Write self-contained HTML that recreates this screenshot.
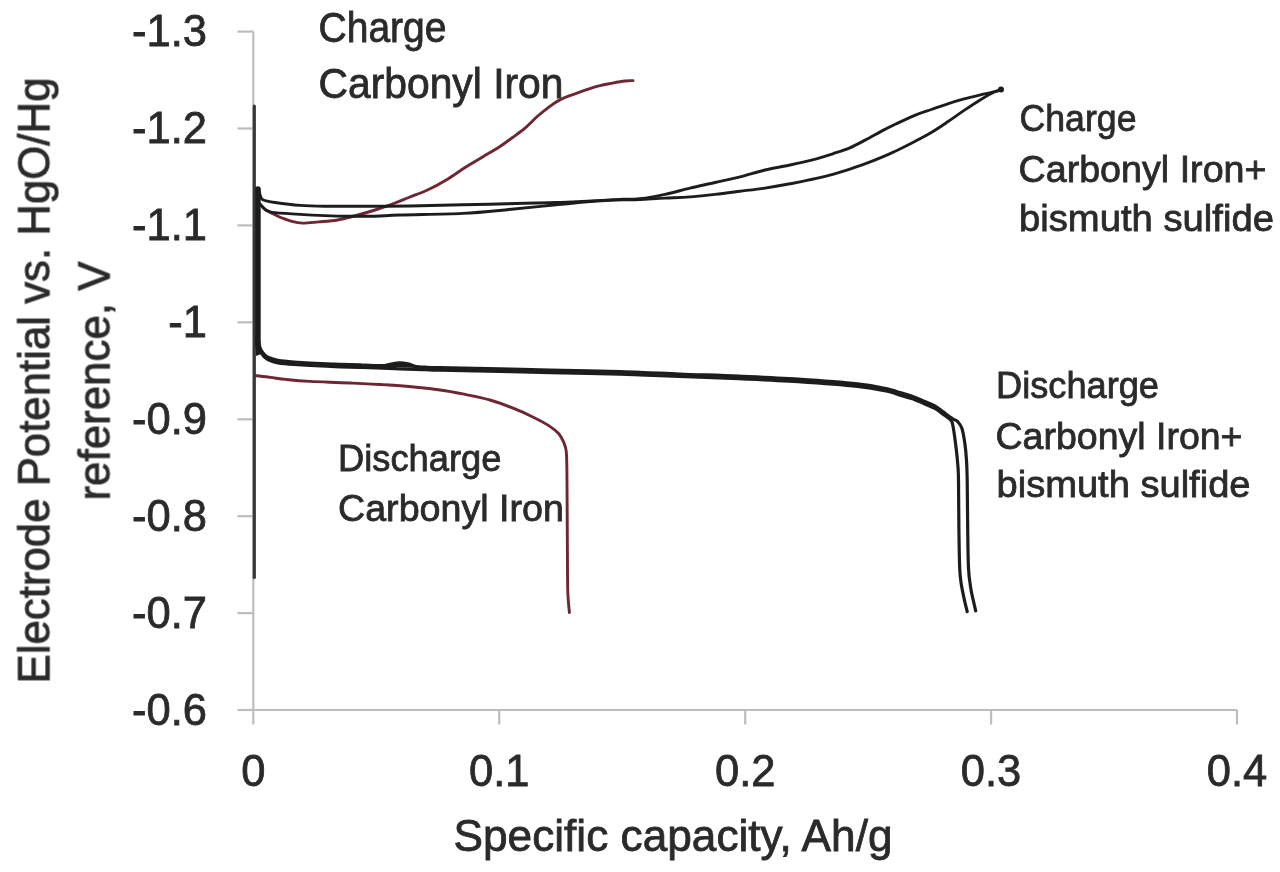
<!DOCTYPE html>
<html><head><meta charset="utf-8"><style>
html,body{margin:0;padding:0;background:#fff;width:1280px;height:872px;overflow:hidden}
svg{display:block}
text{font-family:"Liberation Sans",sans-serif;fill:#2b2b2b;stroke:#2b2b2b;stroke-width:0.8px}
</style></head><body>
<svg width="1280" height="872" viewBox="0 0 1280 872">
<defs><filter id="bl" x="0" y="0" width="1280" height="872" filterUnits="userSpaceOnUse"><feGaussianBlur stdDeviation="0.5"/></filter></defs>
<rect width="1280" height="872" fill="#fff"/>
<g filter="url(#bl)">
<g fill="none" stroke="#bdbdbd" stroke-width="2.2">
<path d="M253.3,31.6 V710.0 H1237.0" />
<path d="M237.5,31.6 H253.3" />
<path d="M237.5,128.5 H253.3" />
<path d="M237.5,225.4 H253.3" />
<path d="M237.5,322.3 H253.3" />
<path d="M237.5,419.3 H253.3" />
<path d="M237.5,516.2 H253.3" />
<path d="M237.5,613.1 H253.3" />
<path d="M237.5,710.0 H253.3" />
<path d="M253.3,710.0 V724.5" />
<path d="M499.2,710.0 V724.5" />
<path d="M745.2,710.0 V724.5" />
<path d="M991.1,710.0 V724.5" />
<path d="M1237.0,710.0 V724.5" />
</g>
<g>
<text x="207" y="46.1" text-anchor="end" font-size="43.5">-1.3</text>
<text x="207" y="143.0" text-anchor="end" font-size="43.5">-1.2</text>
<text x="207" y="239.9" text-anchor="end" font-size="43.5">-1.1</text>
<text x="207" y="336.8" text-anchor="end" font-size="43.5">-1</text>
<text x="207" y="433.8" text-anchor="end" font-size="43.5">-0.9</text>
<text x="207" y="530.7" text-anchor="end" font-size="43.5">-0.8</text>
<text x="207" y="627.6" text-anchor="end" font-size="43.5">-0.7</text>
<text x="207" y="724.5" text-anchor="end" font-size="43.5">-0.6</text>
<text x="253.3" y="786" text-anchor="middle" font-size="43.5">0</text>
<text x="499.2" y="786" text-anchor="middle" font-size="43.5">0.1</text>
<text x="745.2" y="786" text-anchor="middle" font-size="43.5">0.2</text>
<text x="991.1" y="786" text-anchor="middle" font-size="43.5">0.3</text>
<text x="1237.0" y="786" text-anchor="middle" font-size="43.5">0.4</text>
<text x="453.5" y="851.0" font-size="44.5" text-anchor="start" textLength="439.0" lengthAdjust="spacingAndGlyphs">Specific capacity, Ah/g</text>
<g transform="translate(49.3,683.5) rotate(-90)"><text x="0.0" y="0.0" font-size="44.5" text-anchor="start" textLength="606.0" lengthAdjust="spacingAndGlyphs">Electrode Potential vs. HgO/Hg</text></g>
<g transform="translate(109.5,500.5) rotate(-90)"><text x="0.0" y="0.0" font-size="44.5" text-anchor="start" textLength="239.0" lengthAdjust="spacingAndGlyphs">reference, V</text></g>
<text x="318.5" y="42.2" font-size="42.0" text-anchor="start" textLength="128.0" lengthAdjust="spacingAndGlyphs">Charge</text>
<text x="318.5" y="97.5" font-size="42.0" text-anchor="start" textLength="245.0" lengthAdjust="spacingAndGlyphs">Carbonyl Iron</text>
<text x="1019.5" y="131.1" font-size="37.5" text-anchor="start" textLength="117.0" lengthAdjust="spacingAndGlyphs">Charge</text>
<text x="1018.5" y="181.5" font-size="37.5" text-anchor="start" textLength="248.0" lengthAdjust="spacingAndGlyphs">Carbonyl Iron+</text>
<text x="1019.0" y="230.5" font-size="37.5" text-anchor="start" textLength="255.0" lengthAdjust="spacingAndGlyphs">bismuth sulfide</text>
<text x="996.0" y="397.5" font-size="37.5" text-anchor="start" textLength="163.0" lengthAdjust="spacingAndGlyphs">Discharge</text>
<text x="995.5" y="448.5" font-size="37.5" text-anchor="start" textLength="247.0" lengthAdjust="spacingAndGlyphs">Carbonyl Iron+</text>
<text x="996.5" y="497.0" font-size="37.5" text-anchor="start" textLength="254.0" lengthAdjust="spacingAndGlyphs">bismuth sulfide</text>
<text x="338.0" y="470.6" font-size="37.5" text-anchor="start" textLength="163.5" lengthAdjust="spacingAndGlyphs">Discharge</text>
<text x="338.0" y="521.4" font-size="37.5" text-anchor="start" textLength="226.0" lengthAdjust="spacingAndGlyphs">Carbonyl Iron</text>
</g>
<g fill="none" stroke-linecap="round" stroke-linejoin="round">
<path d="M255.0,375.5 C257.5,375.8 264.8,376.8 270.0,377.4 C275.2,378.0 279.3,378.7 286.0,379.4 C292.7,380.1 299.3,380.8 310.0,381.4 C320.7,382.0 335.0,382.3 350.0,383.0 C365.0,383.7 385.0,384.6 400.0,385.8 C415.0,386.9 429.2,388.6 440.0,390.0 C450.8,391.4 456.7,392.7 465.0,394.4 C473.3,396.1 481.7,397.6 490.0,400.0 C498.3,402.4 507.7,405.8 515.0,408.8 C522.3,411.7 528.1,414.7 533.8,417.5 C539.4,420.3 544.6,422.9 548.8,425.6 C552.9,428.3 556.2,430.9 558.8,433.8 C561.2,436.6 562.5,439.6 563.8,442.5 C565.0,445.4 565.7,446.7 566.2,451.2 C566.8,455.8 566.7,459.4 566.9,470.0 C567.1,480.6 567.1,498.3 567.2,515.0 C567.3,531.7 567.4,556.8 567.5,570.0 C567.6,583.2 567.6,586.9 567.9,594.0 C568.2,601.1 569.1,609.4 569.4,612.5" stroke="#6e2632" stroke-width="2.9"/>
<path d="M258.0,203.0 C258.6,203.5 260.3,204.8 261.5,205.8 C262.7,206.9 263.8,208.3 265.0,209.3 C266.2,210.3 267.7,210.8 269.0,211.6 C270.3,212.3 271.7,213.1 273.0,213.8 C274.3,214.5 275.5,215.1 277.0,215.8 C278.5,216.5 279.6,217.1 282.0,218.0 C284.4,218.9 287.8,220.4 291.2,221.2 C294.7,222.1 297.9,223.0 302.5,223.1 C307.1,223.2 312.9,222.4 318.8,221.9 C324.6,221.4 331.2,221.1 337.5,220.0 C343.8,218.9 350.0,217.2 356.2,215.5 C362.5,213.8 368.8,212.0 375.0,210.0 C381.2,208.0 388.1,205.6 393.8,203.5 C399.4,201.4 403.1,199.8 408.8,197.5 C414.4,195.2 421.2,192.9 427.5,190.0 C433.8,187.1 440.0,183.8 446.2,180.0 C452.5,176.2 458.8,171.5 465.0,167.5 C471.2,163.5 477.9,159.8 483.8,156.2 C489.6,152.8 495.2,149.6 500.0,146.5 C504.8,143.4 508.3,140.6 512.5,137.5 C516.7,134.4 520.8,131.6 525.0,128.1 C529.2,124.6 533.8,119.6 537.5,116.2 C541.2,112.9 544.4,110.5 547.5,108.1 C550.6,105.7 553.3,103.7 556.2,101.9 C559.2,100.1 561.9,98.9 565.0,97.5 C568.1,96.1 571.2,95.1 575.0,93.8 C578.8,92.4 583.3,90.8 587.5,89.4 C591.7,88.0 595.8,86.6 600.0,85.6 C604.2,84.5 608.3,83.9 612.5,83.1 C616.7,82.3 621.6,81.4 625.0,81.0 C628.4,80.6 631.7,80.7 633.0,80.6" stroke="#6e2632" stroke-width="2.9"/>
<path d="M254.3,106 V577.5" stroke="#383838" stroke-width="3.2"/>
<path d="M257.9,189 V345" stroke="#1e1e1e" stroke-width="5.6"/>
<path d="M257.5,331.3 C257.6,333.0 258.0,338.5 258.3,341.3 C258.6,344.1 259.0,346.3 259.5,348.3 C260.0,350.3 260.6,351.8 261.5,353.3 C262.4,354.9 263.6,356.4 265.0,357.6 C266.4,358.8 267.8,359.6 270.0,360.5 C272.2,361.4 274.0,362.1 278.0,362.8 C282.0,363.5 288.7,364.1 294.0,364.5 C299.3,364.9 302.3,365.1 310.0,365.5 C317.7,365.9 331.2,366.5 340.0,366.8 C348.8,367.1 355.5,367.3 362.5,367.5 C369.5,367.7 375.8,367.9 382.0,368.1 C388.2,368.4 392.8,368.7 400.0,369.0 C407.2,369.3 418.3,369.5 425.0,369.7 C431.7,369.9 427.5,369.9 440.0,370.2 C452.5,370.5 481.7,371.0 500.0,371.4 C518.3,371.8 530.0,372.2 550.0,372.6 C570.0,373.1 598.4,373.5 620.0,374.1 C641.6,374.8 659.6,375.8 679.4,376.5 C699.2,377.2 719.0,377.8 738.8,378.6 C758.6,379.5 778.3,380.3 798.1,381.6 C817.9,382.9 842.6,384.7 857.5,386.3 C872.4,387.9 880.1,389.8 887.2,391.3 C894.3,392.8 896.0,393.9 900.0,395.1 C904.0,396.3 907.7,397.2 911.5,398.5 C915.3,399.8 919.1,401.5 922.9,403.1 C926.7,404.7 930.9,406.3 934.4,408.2 C937.9,410.1 941.2,412.9 943.6,414.6 C946.0,416.3 947.6,417.3 949.0,418.5 C950.4,419.7 951.2,419.8 952.0,422.0 C952.8,424.2 953.2,427.1 953.9,431.6 C954.6,436.1 955.5,443.1 956.2,448.8 C956.9,454.5 957.5,460.8 957.9,466.0 C958.3,471.2 958.3,469.6 958.5,480.0 C958.7,490.4 958.7,513.5 958.9,528.2 C959.1,542.9 959.3,558.9 959.7,568.3 C960.1,577.6 960.5,578.9 961.3,584.3 C962.1,589.6 963.5,595.8 964.5,600.4 C965.5,605.0 966.8,609.7 967.2,611.6" stroke="#1e1e1e" stroke-width="3.2"/>
<path d="M257.5,328.8 C257.6,330.5 258.0,336.0 258.3,338.8 C258.6,341.6 259.0,343.8 259.5,345.8 C260.0,347.8 260.6,349.2 261.5,350.8 C262.4,352.4 263.6,353.9 265.0,355.1 C266.4,356.3 267.8,357.1 270.0,358.0 C272.2,358.9 274.0,359.6 278.0,360.3 C282.0,361.0 288.7,361.6 294.0,362.0 C299.3,362.4 302.3,362.6 310.0,363.0 C317.7,363.4 331.2,364.0 340.0,364.3 C348.8,364.6 355.5,364.8 362.5,365.0 C369.5,365.2 377.4,365.7 382.0,365.6 C386.6,365.5 387.2,364.9 390.0,364.4 C392.8,363.9 396.0,362.9 399.0,362.8 C402.0,362.7 405.2,363.2 408.0,363.8 C410.8,364.4 413.2,365.9 416.0,366.5 C418.8,367.1 421.0,367.0 425.0,367.2 C429.0,367.4 427.5,367.4 440.0,367.7 C452.5,368.0 481.7,368.5 500.0,368.9 C518.3,369.3 530.0,369.7 550.0,370.1 C570.0,370.6 598.4,371.0 620.0,371.6 C641.6,372.2 659.6,373.2 679.4,374.0 C699.2,374.8 719.0,375.2 738.8,376.1 C758.6,377.0 778.3,377.8 798.1,379.1 C817.9,380.4 842.6,382.2 857.5,383.8 C872.4,385.4 880.1,387.3 887.2,388.8 C894.3,390.3 896.0,391.4 900.0,392.6 C904.0,393.8 907.7,394.7 911.5,396.0 C915.3,397.3 919.1,399.0 922.9,400.6 C926.7,402.2 930.9,403.8 934.4,405.7 C937.9,407.6 941.1,410.3 943.6,412.1 C946.1,413.9 947.6,415.3 949.3,416.5 C951.0,417.7 952.7,418.7 954.0,419.5 C955.3,420.3 956.0,419.9 957.3,421.3 C958.6,422.8 960.6,424.6 961.9,428.2 C963.1,431.8 964.0,437.6 964.8,443.0 C965.6,448.4 966.1,454.1 966.5,460.3 C966.9,466.5 967.0,468.7 967.2,480.0 C967.4,491.3 967.5,513.5 967.7,528.2 C967.9,542.9 968.0,558.1 968.5,568.3 C969.0,578.4 970.1,583.8 970.9,589.1 C971.7,594.5 972.5,596.8 973.3,600.4 C974.1,604.0 975.3,609.1 975.7,610.8" stroke="#1e1e1e" stroke-width="3.2"/>
<path d="M255,338 L258.5,338 L260,348 L262.5,353.5 L256,356 Z" fill="#1e1e1e" stroke="none"/>
<path d="M380,367 C388,365 393,362.5 399,362.6 C405,362.7 410,364.5 418,368 Z" fill="#1e1e1e" stroke="none"/>
<path d="M259.0,189.0 C259.2,190.1 259.6,193.7 260.3,195.5 C261.0,197.3 260.6,198.6 263.0,199.8 C265.4,201.0 268.8,201.6 275.0,202.5 C281.2,203.4 291.7,204.8 300.0,205.4 C308.3,206.0 316.7,206.1 325.0,206.2 C333.3,206.3 341.7,206.2 350.0,206.2 C358.3,206.3 365.0,206.3 375.0,206.2 C385.0,206.2 395.4,206.2 410.0,206.0 C424.6,205.8 443.3,205.2 462.5,204.8 C481.7,204.4 509.4,203.7 525.0,203.3 C540.6,202.9 546.5,202.8 556.0,202.5 C565.5,202.2 570.7,202.1 582.0,201.5 C593.3,200.9 614.3,199.6 624.0,199.2 C633.7,198.8 633.2,199.6 640.0,198.8 C646.8,198.0 656.7,196.2 665.0,194.4 C673.3,192.6 681.7,190.1 690.0,188.1 C698.3,186.1 706.7,184.4 715.0,182.5 C723.3,180.6 731.7,179.0 740.0,176.9 C748.3,174.8 756.7,172.0 765.0,170.0 C773.3,168.0 781.4,166.9 790.0,165.0 C798.6,163.1 809.3,160.6 816.4,158.8 C823.5,156.9 827.3,155.6 832.8,153.8 C838.3,152.0 843.7,150.4 849.2,148.1 C854.7,145.8 860.1,142.8 865.6,139.9 C871.1,137.0 877.1,133.5 882.0,130.9 C886.9,128.3 889.7,126.9 895.2,124.3 C900.7,121.7 908.8,117.8 914.8,115.3 C920.8,112.8 925.8,111.4 931.3,109.5 C936.8,107.6 942.2,105.6 947.7,103.8 C953.2,102.0 958.6,100.4 964.1,98.9 C969.6,97.4 975.0,96.1 980.5,94.8 C986.0,93.5 993.5,92.0 996.9,91.2 C1000.3,90.4 1000.3,90.0 1001.0,89.8" stroke="#1e1e1e" stroke-width="2.9"/>
<path d="M258.0,202.0 C258.6,202.6 260.3,204.6 261.5,205.8 C262.7,207.0 263.8,208.4 265.0,209.3 C266.2,210.2 267.3,210.9 269.0,211.4 C270.7,211.9 269.8,212.1 275.0,212.6 C280.2,213.1 291.7,213.9 300.0,214.4 C308.3,214.9 316.7,215.3 325.0,215.6 C333.3,215.9 341.7,216.1 350.0,216.2 C358.3,216.3 366.7,216.4 375.0,216.2 C383.3,216.1 385.4,215.5 400.0,215.0 C414.6,214.5 444.3,214.3 462.5,213.4 C480.7,212.5 496.0,210.7 509.0,209.5 C522.0,208.3 532.8,207.2 540.6,206.4 C548.4,205.6 550.8,205.3 556.0,204.8 C561.2,204.3 566.3,203.9 572.0,203.3 C577.7,202.8 581.3,202.1 590.0,201.5 C598.7,200.9 615.7,200.1 624.0,199.8 C632.3,199.5 633.2,199.9 640.0,199.6 C646.8,199.3 656.7,198.5 665.0,198.1 C673.3,197.7 681.7,197.5 690.0,196.9 C698.3,196.3 706.7,195.3 715.0,194.4 C723.3,193.5 731.7,192.3 740.0,191.2 C748.3,190.2 756.7,189.3 765.0,188.1 C773.3,186.8 781.4,185.4 790.0,183.8 C798.6,182.1 809.3,180.0 816.4,178.4 C823.5,176.8 827.3,175.8 832.8,174.3 C838.3,172.8 843.7,171.2 849.2,169.4 C854.7,167.6 860.1,165.8 865.6,163.7 C871.1,161.6 876.5,159.4 882.0,157.1 C887.5,154.8 892.9,152.3 898.4,149.7 C903.9,147.1 909.3,144.4 914.8,141.5 C920.3,138.6 925.8,135.8 931.3,132.5 C936.8,129.2 942.2,125.5 947.7,121.8 C953.2,118.1 958.6,114.1 964.1,110.4 C969.6,106.7 975.6,102.7 980.5,99.7 C985.4,96.7 990.2,94.0 993.6,92.3 C997.0,90.6 999.8,90.2 1001.0,89.8" stroke="#1e1e1e" stroke-width="2.9"/>
<circle cx="1001" cy="89.5" r="3" fill="#1e1e1e"/>
</g>
</g>
</svg>
</body></html>
